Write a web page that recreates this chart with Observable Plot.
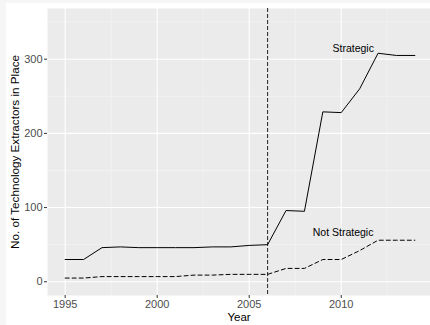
<!DOCTYPE html>
<html>
<head>
<meta charset="utf-8">
<script src="https://cdn.jsdelivr.net/npm/d3@7"></script>
<script src="https://cdn.jsdelivr.net/npm/@observablehq/plot@0.6"></script>
<style>
  html, body { margin: 0; padding: 0; background: #f6f6f6; }
  #chart { position: absolute; left: 6px; top: 3px; width: 424px; height: 322px; background: #ffffff; overflow: hidden; }
  #chart svg { display: block; background: #ffffff; }
</style>
</head>
<body>
<div id="chart"></div>
<script>
// Technology extractors in place per year, split by strategic status
const years = [1995, 1996, 1997, 1998, 1999, 2000, 2001, 2002, 2003, 2004,
               2005, 2006, 2007, 2008, 2009, 2010, 2011, 2012, 2013, 2014];
const strategic = [30, 30, 46, 47, 46, 46, 46, 46, 47, 47,
                   49, 50, 96, 95, 229, 228, 260, 308, 305, 305];
const notStrategic = [5, 5, 7, 7, 7, 7, 7, 9, 9, 10,
                      10, 10, 18, 18, 30, 30, 42, 56, 56, 56];

// Policy change year (vertical reference line)
const policyYear = [2006];

// Inline series labels
const labelNames = ["Strategic", "Not Strategic"];
const labelYears = [2010.65, 2010.1];
const labelValues = [314, 66];

// Axis ticks and grid
const xTicks = [1995, 2000, 2005, 2010];
const xMinor = [1997.5, 2002.5, 2007.5, 2012.5];
const yTicks = [0, 100, 200, 300];
const yMinor = [50, 150, 250, 350];

const strategicRows = years.map((y, i) => ({year: y, value: strategic[i]}));
const notStrategicRows = years.map((y, i) => ({year: y, value: notStrategic[i]}));

const font = "'Liberation Sans', Arial, Helvetica, sans-serif";

const chart = Plot.plot({
  width: 424,
  height: 322,
  marginLeft: 41,
  marginTop: 5,
  marginRight: 0,
  marginBottom: 30,
  style: {fontFamily: font, background: "#ffffff"},
  x: {domain: [1994.04, 2014.85]},
  y: {domain: [-18.5, 368.3]},
  marks: [
    Plot.frame({fill: "#ebebeb", stroke: null}),
    Plot.ruleX(xMinor, {stroke: "#f5f5f5", strokeWidth: 0.6}),
    Plot.ruleY(yMinor, {stroke: "#f5f5f5", strokeWidth: 0.6}),
    Plot.ruleX(xTicks, {stroke: "#ffffff", strokeWidth: 1.1}),
    Plot.ruleY(yTicks, {stroke: "#ffffff", strokeWidth: 1.1}),
    // x tick marks, with their labels set just below
    Plot.axisX(xTicks, {tickSize: 3, stroke: "#333333", text: null, label: null}),
    Plot.text(xTicks, {x: d => d, frameAnchor: "bottom", lineAnchor: "top", dy: 5,
      text: d => String(d), fontSize: 11, fill: "#4d4d4d"}),
    Plot.axisY(yTicks, {tickSize: 3, tickPadding: 2, fontSize: 11, fill: "#4d4d4d",
      stroke: "#333333", tickFormat: d => String(d), label: null}),
    Plot.ruleX(policyYear, {stroke: "#222222", strokeWidth: 1, strokeDasharray: "4,2"}),
    Plot.line(strategicRows, {x: "year", y: "value", stroke: "#000000", strokeWidth: 1}),
    Plot.line(notStrategicRows, {x: "year", y: "value", stroke: "#000000", strokeWidth: 1,
      strokeDasharray: "4,3"}),
    Plot.text(labelNames, {x: (d, i) => labelYears[i], y: (d, i) => labelValues[i],
      text: d => d, fontSize: 10.5, fill: "#000000"}),
    Plot.text(["Year"], {frameAnchor: "bottom", dy: 25, fontSize: 11.5, fill: "#000000"}),
    Plot.text(["No. of Technology Extractors in Place"], {frameAnchor: "left", dx: -32,
      textAnchor: "middle", rotate: -90, fontSize: 11.7, fill: "#000000"})
  ]
});

document.getElementById("chart").appendChild(chart);
</script>
</body>
</html>
